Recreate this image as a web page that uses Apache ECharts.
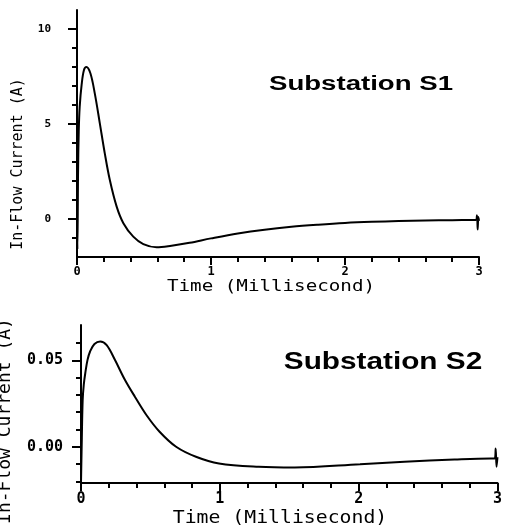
<!DOCTYPE html>
<html>
<head>
<meta charset="utf-8">
<script src="https://cdn.jsdelivr.net/npm/echarts@6/dist/echarts.min.js"></script>
<style>
  html, body { margin: 0; padding: 0; background: #fff; }
  #chart { width: 505px; height: 531px; }
</style>
</head>
<body>
<div id="chart"></div>
<script>
// Substation S1 in-flow current (A) vs time (ms)
const s1Time = [0, 0.003, 0.008, 0.013, 0.02, 0.035, 0.052, 0.07, 0.1, 0.133, 0.17, 0.207, 0.245, 0.296, 0.346, 0.42, 0.495, 0.594, 0.694, 0.84, 1.0, 1.2, 1.4, 1.6, 1.8, 2.0, 2.2, 2.4, 2.6, 2.8, 2.975, 2.985, 2.99, 2.995, 3.0]
const s1Current = [0, -1.6, 2.5, 4.6, 5.9, 7.1, 7.84, 8.0, 7.67, 6.6, 5.05, 3.47, 2.05, 0.65, -0.22, -0.93, -1.32, -1.49, -1.42, -1.25, -1.02, -0.76, -0.56, -0.41, -0.3, -0.21, -0.15, -0.11, -0.08, -0.06, -0.05, 0.2, -0.55, 0.1, -0.1]

// Substation S2
const s2Time = [0, 0.006, 0.012, 0.02, 0.031, 0.047, 0.066, 0.097, 0.138, 0.185, 0.245, 0.316, 0.388, 0.471, 0.566, 0.685, 0.828, 0.994, 1.28, 1.54, 2.01, 2.33, 2.69, 2.95, 2.98, 2.987, 2.993, 3.0]
const s2Current = [-0.021, 0.005, 0.027, 0.036, 0.0427, 0.0503, 0.0553, 0.0595, 0.061, 0.0588, 0.0502, 0.0388, 0.0290, 0.0184, 0.0087, 0, -0.0058, -0.0097, -0.0116, -0.012, -0.0101, -0.0087, -0.0074, -0.0068, -0.0068, -0.001, -0.0116, -0.006]

// tick values
const s1MajorTicks = [0, 5, 10]
const s1MinorTicks = [-1, 1, 2, 3, 4, 6, 7, 8, 9]
const s2MajorTicks = [0, 0.05]
const s2MinorTicks = [-0.02, -0.01, 0.01, 0.02, 0.03, 0.04, 0.06]

const timeLabel = 'Time (Millisecond)'
const currentLabel = 'In-Flow Current (A)'

const chart = echarts.init(document.getElementById('chart'))

const mono = "'DejaVu Sans Mono', monospace"
const black = '#000'

function zip(xs, ys) {
  return xs.map((x, i) => [x, ys[i]])
}

function xAxisFor(grid, fontSize) {
  return {
    type: 'value', gridIndex: grid, position: 'bottom', min: 0, max: 3, interval: 1,
    axisLine: { show: true, onZero: false, lineStyle: { color: black, width: 2 } },
    axisTick: { show: true, length: 8, lineStyle: { color: black, width: 2 } },
    minorTick: { show: true, splitNumber: 5, length: 5, lineStyle: { color: black, width: 2 } },
    axisLabel: { color: black, fontFamily: mono, fontWeight: 'bold', fontSize: fontSize, margin: 9 },
    splitLine: { show: false }
  }
}

// y: one axis draws the line, long ticks and labels; a twin draws the short ticks
function yMajor(grid, min, max, ticks, fontSize, margin, fmt) {
  return {
    type: 'value', gridIndex: grid, position: 'left', min: min, max: max,
    axisLine: { show: true, onZero: false, lineStyle: { color: black, width: 2 } },
    axisTick: { show: true, customValues: ticks, length: 9, lineStyle: { color: black, width: 2 } },
    axisLabel: { customValues: ticks, color: black, fontFamily: mono, fontWeight: 'bold', fontSize: fontSize, margin: margin, formatter: fmt },
    splitLine: { show: false }
  }
}

function yMinor(grid, min, max, ticks) {
  return {
    type: 'value', gridIndex: grid, position: 'left', offset: 0, min: min, max: max,
    axisLine: { show: false, onZero: false },
    axisTick: { show: true, customValues: ticks, length: 5, lineStyle: { color: black, width: 2 } },
    axisLabel: { show: false },
    splitLine: { show: false }
  }
}

function label(text, x, y, font, opts) {
  return Object.assign({
    type: 'text', x: x, y: y,
    style: { text: text, font: font, fill: black, align: 'center', verticalAlign: 'middle' }
  }, opts || {})
}

chart.setOption({
  animation: false,
  backgroundColor: '#fff',
  grid: [
    { left: 77, right: 26, top: 10, bottom: 274 },
    { left: 81, right: 4, top: 325, bottom: 48 }
  ],
  xAxis: [xAxisFor(0, 12), xAxisFor(1, 15)],
  yAxis: [
    yMajor(0, -2, 11, s1MajorTicks, 11, 26, v => String(v)),
    yMinor(0, -2, 11, s1MinorTicks),
    yMajor(1, -0.021, 0.0705, s2MajorTicks, 15, 18, v => Number(v).toFixed(2)),
    yMinor(1, -0.021, 0.0705, s2MinorTicks)
  ],
  series: [
    {
      type: 'line', xAxisIndex: 0, yAxisIndex: 0, data: zip(s1Time, s1Current),
      showSymbol: false, smooth: 0.35,
      lineStyle: { color: black, width: 2 }
    },
    {
      type: 'line', xAxisIndex: 1, yAxisIndex: 2, data: zip(s2Time, s2Current),
      showSymbol: false, smooth: 0.35,
      lineStyle: { color: black, width: 2 }
    }
  ],
  graphic: [
    label('Substation S1', 361, 84, "bold 20px 'Liberation Sans', Arial", { scaleX: 1.38 }),
    label('Substation S2', 383, 362, "bold 24px 'Liberation Sans', Arial", { scaleX: 1.24 }),
    label(timeLabel, 271, 287, '15px ' + mono, { scaleX: 1.28 }),
    label(timeLabel, 280, 518, '18px ' + mono, { scaleX: 1.1 }),
    label(currentLabel, 18, 164, '15px ' + mono, { rotation: Math.PI / 2 }),
    label(currentLabel, 5, 421, '18px ' + mono, { rotation: Math.PI / 2 })
  ]
})
</script>
</body>
</html>
